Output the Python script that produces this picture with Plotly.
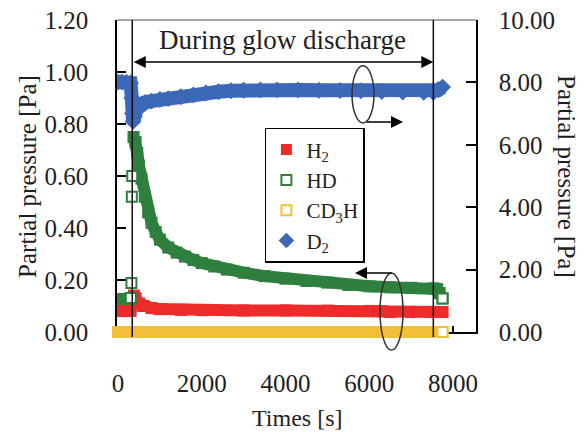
import plotly.graph_objects as go

# ---------------- data ----------------
discharge_start = 340   # s
discharge_end = 7530    # s

time_h2 = [0, 100, 200, 300, 340, 380, 420, 500, 600, 800, 1000, 1500, 2000, 3000, 4000, 5000, 6000, 6300, 6500, 7000, 7500, 7750]
h2 = [0.081, 0.081, 0.081, 0.082, 0.12, 0.14, 0.13, 0.11, 0.10, 0.092, 0.088, 0.085, 0.084, 0.083, 0.083, 0.082, 0.081, 0.080, 0.077, 0.077, 0.077, 0.077]

time_hd_pre = [0, 100, 200, 300]
hd_pre = [0.127, 0.127, 0.127, 0.128]
time_hd = [370, 420, 460, 500, 560, 640, 720, 800, 900, 1000, 1200, 1400, 1600, 1800, 2000, 2300, 2600, 3000, 3500, 4000,
           4500, 5000, 5500, 6000, 6500, 7000, 7530, 7620, 7680, 7750]
hd = [0.75, 0.73, 0.69, 0.64, 0.59, 0.52, 0.46, 0.42, 0.385, 0.355, 0.325, 0.305, 0.29, 0.277, 0.265, 0.252, 0.24, 0.228, 0.215, 0.205,
      0.196, 0.19, 0.181, 0.176, 0.172, 0.170, 0.168, 0.165, 0.15, 0.129]
time_hd_points = [305, 320, 330, 340, 7750]
hd_points = [0.131, 0.188, 0.52, 0.60, 0.129]

time_cd3h = [0, 200, 400, 600, 800, 1000, 1200, 1400, 1600, 1800, 2000, 2200, 2400, 2600, 2800, 3000, 3200, 3400, 3600, 3800,
             4000, 4200, 4400, 4600, 4800, 5000, 5200, 5400, 5600, 5800, 6000, 6200, 6400, 6600, 6800, 7000, 7200, 7400, 7600, 7750]
cd3h = [0.0, 0.0, 0.0, 0.0, 0.0, 0.0, 0.0, 0.0, 0.0, 0.0, 0.0, 0.0, 0.0, 0.0, 0.0, 0.0, 0.0, 0.0, 0.0, 0.0,
        0.0, 0.0, 0.0, 0.0, 0.0, 0.0, 0.0, 0.0, 0.0, 0.0, 0.0, 0.0, 0.0, 0.0, 0.0, 0.0, 0.0, 0.0, 0.0, 0.0]

time_d2 = [0, 100, 200, 300, 330, 345, 360, 390, 450, 550, 650, 800, 1000, 1200, 1500, 1800, 2100, 2400, 2700, 3000,
           3400, 3800, 4300, 4800, 5300, 5800, 6300, 6800, 7300, 7530, 7650, 7750]
d2 = [8.01, 8.01, 8.00, 7.98, 7.50, 7.00, 6.75, 6.90, 7.15, 7.30, 7.36, 7.40, 7.45, 7.48, 7.54, 7.60, 7.66, 7.70, 7.73, 7.75,
      7.76, 7.76, 7.76, 7.75, 7.74, 7.73, 7.71, 7.69, 7.68, 7.68, 7.76, 7.85]

x_ticks = [0, 2000, 4000, 6000, 8000]
left_ticks = [0.0, 0.2, 0.4, 0.6, 0.8, 1.0, 1.2]
right_ticks = [0, 2, 4, 6, 8, 10]

RED = "#ee2a2a"
GREEN = "#2f7f3e"
YELLOW = "#f3bf38"
BLUE = "#3d68b8"
FONT = "Liberation Serif"
TXT = "#1e1e1e"

fig = go.Figure()

# bands (dense measurement points)
fig.add_trace(go.Scatter(x=time_cd3h, y=cd3h, mode="markers", showlegend=False, cliponaxis=False,
                         marker=dict(symbol="square", size=12, color=YELLOW)))
fig.add_trace(go.Scatter(x=time_h2, y=h2, mode="lines+markers", showlegend=False,
                         line=dict(color=RED, width=12), marker=dict(symbol="square", size=12, color=RED)))
fig.add_trace(go.Scatter(x=time_hd_pre, y=hd_pre, mode="lines+markers", showlegend=False,
                         line=dict(color=GREEN, width=12), marker=dict(symbol="square", size=12, color=GREEN)))
fig.add_trace(go.Scatter(x=time_hd, y=hd, mode="lines+markers", showlegend=False,
                         line=dict(color=GREEN, width=12), marker=dict(symbol="square", size=12, color=GREEN)))
fig.add_trace(go.Scatter(x=time_d2, y=d2, mode="lines+markers", showlegend=False, yaxis="y2",
                         line=dict(color=BLUE, width=14), marker=dict(symbol="diamond", size=13, color=BLUE)))

# individually visible points (also carry the legend)
fig.add_trace(go.Scatter(x=time_h2[-1:], y=h2[-1:], mode="markers", name="H<sub>2</sub>",
                         marker=dict(symbol="square", size=11, color=RED)))
fig.add_trace(go.Scatter(x=time_hd_points, y=hd_points, mode="markers", name="HD",
                         marker=dict(symbol="square", size=10, color="white", line=dict(color=GREEN, width=2))))
fig.add_trace(go.Scatter(x=time_cd3h[-1:], y=cd3h[-1:], mode="markers", name="CD<sub>3</sub>H", cliponaxis=False,
                         marker=dict(symbol="square", size=10, color="white", line=dict(color=YELLOW, width=2))))
fig.add_trace(go.Scatter(x=time_d2[-1:], y=d2[-1:], mode="markers", name="D<sub>2</sub>", yaxis="y2",
                         marker=dict(symbol="diamond", size=12, color=BLUE)))

axis_common = dict(showgrid=False, zeroline=False, showline=True, linecolor="black", linewidth=1.5,
                   ticks="inside", tickcolor="black", tickwidth=1.5, layer="below traces", automargin=False,
                   ticklabeloverflow="allow", tickfont=dict(family=FONT, size=25, color=TXT))

# the page adds an 8 px body margin, so the figure is 8 px smaller than the window
fig.update_layout(
    width=578, height=424,
    margin=dict(l=109, r=110, t=12, b=100),
    paper_bgcolor="white", plot_bgcolor="white",
    font=dict(family=FONT, color=TXT),
    xaxis=dict(range=[-24, 8549], tickvals=x_ticks, tickformat="d", ticklen=6, ticklabelstandoff=28, **axis_common),
    yaxis=dict(range=[0, 1.2], tickvals=left_ticks, tickformat=".2f", ticklen=9, ticklabelstandoff=22, **axis_common),
    yaxis2=dict(range=[0, 10], tickvals=right_ticks, tickformat=".2f", ticklen=10, ticklabelstandoff=16,
                overlaying="y", side="right", anchor="x", **axis_common),
    legend=dict(x=0.412, y=0.654, xanchor="left", yanchor="top", bgcolor="white",
                bordercolor="black", borderwidth=1.5, font=dict(family=FONT, size=21, color=TXT),
                traceorder="normal", itemwidth=30, entrywidth=85, entrywidthmode="pixels"),
)

shapes = [
    # top border
    dict(type="line", xref="paper", yref="paper", x0=0, x1=1, y0=1, y1=1, line=dict(color="#8a8a8a", width=1.5)),
    # discharge start / end
    dict(type="line", xref="x", yref="paper", x0=discharge_start, x1=discharge_start, y0=-0.016, y1=1,
         line=dict(color="#111", width=1.5), layer="above"),
    dict(type="line", xref="x", yref="paper", x0=discharge_end, x1=discharge_end, y0=-0.016, y1=1,
         line=dict(color="#111", width=1.5), layer="above"),
    # ellipses
    dict(type="circle", xref="x", yref="paper", x0=5588, x1=6113, y0=0.670, y1=0.853,
         line=dict(color="#333", width=1.5)),
    dict(type="circle", xref="x", yref="paper", x0=6257, x1=6806, y0=-0.058, y1=0.189,
         line=dict(color="#333", width=1.5)),
]
fig.update_layout(shapes=shapes)

annotations = [
    # double arrow for the discharge period
    dict(xref="x", yref="y domain", x=discharge_end, y=0.865, axref="x", ayref="y domain", ax=discharge_start, ay=0.865,
         text="", showarrow=True, arrowside="end+start", arrowhead=2, startarrowhead=2,
         arrowsize=1.6, startarrowsize=1.6, arrowwidth=1.5, arrowcolor="black"),
    dict(xref="x", yref="paper", x=(discharge_start + discharge_end) / 2, y=0.936, text="During glow discharge",
         showarrow=False, font=dict(family=FONT, size=27, color=TXT), xanchor="center", yanchor="middle"),
    # arrows pointing at axes
    dict(xref="x", yref="y domain", x=6806, y=0.673, axref="x", ayref="y domain", ax=5899, ay=0.673,
         text="", showarrow=True, arrowhead=2, arrowsize=1.6, arrowwidth=1.5, arrowcolor="black"),
    dict(xref="x", yref="y domain", x=5660, y=0.189, axref="x", ayref="y domain", ax=6567, ay=0.189,
         text="", showarrow=True, arrowhead=2, arrowsize=1.6, arrowwidth=1.5, arrowcolor="black"),
    # axis titles
    dict(xref="paper", yref="paper", x=-0.251, y=0.5, text="Partial pressure [Pa]", textangle=-90,
         showarrow=False, font=dict(family=FONT, size=25, color=TXT), xanchor="center", yanchor="middle"),
    dict(xref="paper", yref="paper", x=1.2535, y=0.5, text="Partial pressure [Pa]", textangle=90,
         showarrow=False, font=dict(family=FONT, size=25, color=TXT), xanchor="center", yanchor="middle"),
    dict(xref="paper", yref="paper", x=0.5, y=-0.2756, text="Times [s]",
         showarrow=False, font=dict(family=FONT, size=24, color=TXT), xanchor="center", yanchor="middle"),
]
fig.update_layout(annotations=annotations)

fig.write_html("out.html")
